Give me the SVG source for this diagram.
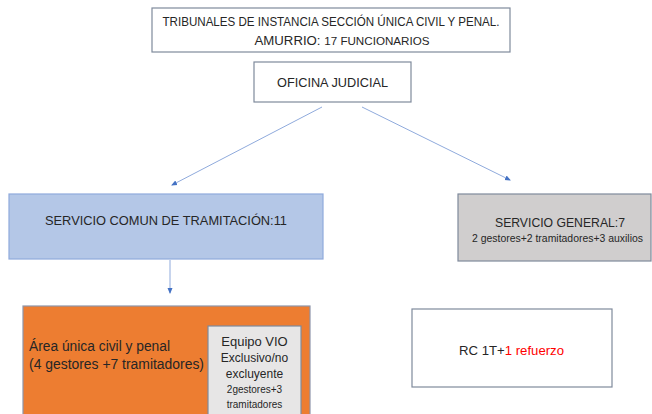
<svg xmlns="http://www.w3.org/2000/svg" width="652" height="414" viewBox="0 0 652 414">
<defs>
<style>
text{font-family:"Liberation Sans",Arial,sans-serif;fill:#262626}
.box{stroke:#7f8a9c;stroke-width:1.2}
.conn{stroke:#8faadc;stroke-width:1;fill:none}
</style>
<marker id="ah" markerWidth="6" markerHeight="6" refX="5" refY="3" orient="auto" markerUnits="userSpaceOnUse">
<path d="M0,0.5 L6,3 L0,5.5 z" fill="#4472c4"/>
</marker>
</defs>
<rect width="652" height="414" fill="#ffffff"/>
<g id="connectors">
<line class="conn" x1="322" y1="107" x2="172" y2="185" marker-end="url(#ah)"/>
<line class="conn" x1="362" y1="107" x2="510" y2="180" marker-end="url(#ah)"/>
<line class="conn" x1="170" y1="260" x2="170" y2="293" marker-end="url(#ah)"/>
</g>
<g id="tribunales">
<rect class="box" x="152" y="8" width="358" height="44" fill="#ffffff"/>
<text x="331" y="26" font-size="13" text-anchor="middle" textLength="337" lengthAdjust="spacingAndGlyphs">TRIBUNALES DE INSTANCIA SECCIÓN ÚNICA CIVIL Y PENAL.</text>
<text x="342" y="45" font-size="12.5" text-anchor="middle" textLength="175" lengthAdjust="spacingAndGlyphs">AMURRIO: <tspan font-size="11">17 FUNCIONARIOS</tspan></text>
</g>
<g id="oficina">
<rect class="box" x="254" y="62" width="157" height="40" fill="#ffffff"/>
<text x="332.5" y="87" font-size="13" text-anchor="middle" textLength="111" lengthAdjust="spacingAndGlyphs">OFICINA JUDICIAL</text>
</g>
<g id="sct">
<rect x="9" y="194" width="314" height="65" fill="#b4c7e7" stroke="#8faadc" stroke-width="1.2"/>
<text x="166" y="225" font-size="13.5" text-anchor="middle" textLength="242" lengthAdjust="spacingAndGlyphs">SERVICIO COMUN DE TRAMITACIÓN:11</text>
</g>
<g id="sg">
<rect class="box" x="458" y="194" width="193" height="67" fill="#d0cece"/>
<text x="560" y="227" font-size="13.5" text-anchor="middle" textLength="130" lengthAdjust="spacingAndGlyphs">SERVICIO GENERAL:7</text>
<text x="557.5" y="242" font-size="10.5" text-anchor="middle" textLength="171" lengthAdjust="spacingAndGlyphs">2 gestores+2 tramitadores+3 auxilios</text>
</g>
<g id="area">
<rect x="23" y="306" width="287" height="120" fill="#ed7d31" stroke="#8e95aa" stroke-width="1.2"/>
<text x="29" y="351" font-size="14" textLength="141" lengthAdjust="spacingAndGlyphs">Área única civil y penal</text>
<text x="29" y="369" font-size="14" textLength="175" lengthAdjust="spacingAndGlyphs">(4 gestores +7 tramitadores)</text>
</g>
<g id="vio">
<rect class="box" x="208" y="326" width="93" height="100" fill="#e7e6e6"/>
<text x="254.5" y="346" font-size="13" text-anchor="middle">Equipo VIO</text>
<text x="254.5" y="362" font-size="12" text-anchor="middle">Exclusivo/no</text>
<text x="254.5" y="378" font-size="12" text-anchor="middle">excluyente</text>
<text x="254.5" y="393" font-size="10" text-anchor="middle">2gestores+3</text>
<text x="254.5" y="408" font-size="10" text-anchor="middle">tramitadores</text>
</g>
<g id="rc">
<rect class="box" x="412" y="309" width="200" height="78" fill="#ffffff"/>
<text x="511.5" y="355" font-size="13.5" text-anchor="middle" textLength="105" lengthAdjust="spacingAndGlyphs">RC 1T+<tspan fill="#ff0000">1 refuerzo</tspan></text>
</g>
</svg>
